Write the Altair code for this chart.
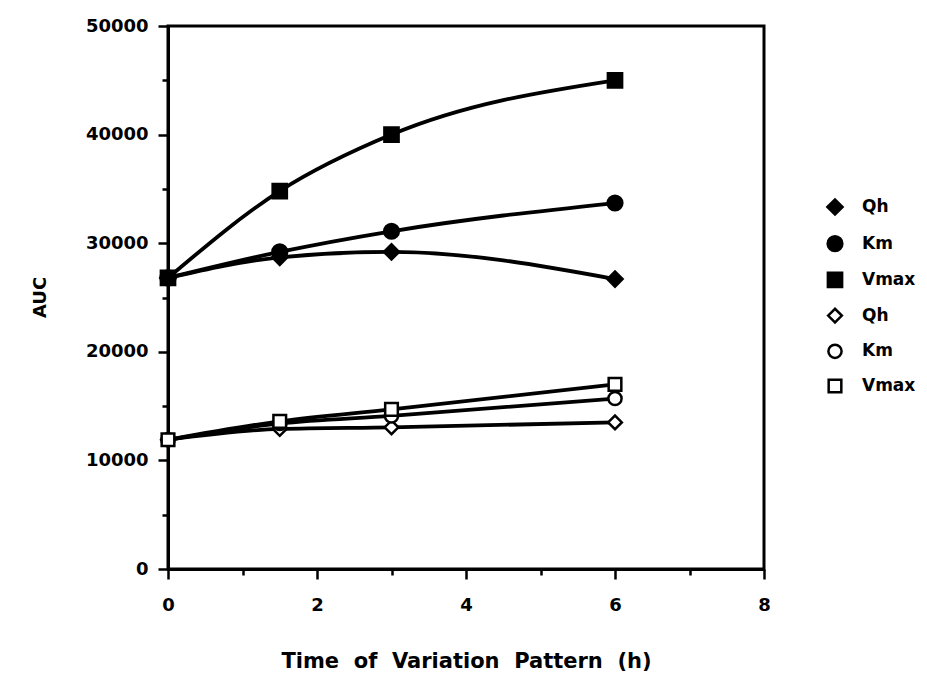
import altair as alt
import pandas as pd

# ---- data ----
times = [0, 1.5, 3, 6]
series_names = ["Qh filled", "Km filled", "Vmax filled", "Qh open", "Km open", "Vmax open"]
qh_filled = [26800, 28700, 29200, 26700]
km_filled = [26800, 29200, 31100, 33700]
vmax_filled = [26800, 34800, 40000, 45000]
qh_open = [11900, 12900, 13050, 13500]
km_open = [11900, 13400, 14100, 15700]
vmax_open = [11900, 13600, 14700, 17000]

x_ticks = [0, 1, 2, 3, 4, 5, 6, 7, 8]
y_ticks = [0, 5000, 10000, 15000, 20000, 25000, 30000, 35000, 40000, 45000, 50000]

shapes = ["diamond", "circle", "square", "diamond", "circle", "square"]
fills = ["black", "black", "black", "white", "white", "white"]
strokes = ["black"] * 6
sizes = [230, 160, 160, 180, 115, 125]

all_values = [qh_filled, km_filled, vmax_filled, qh_open, km_open, vmax_open]
rows = []
for name, vals in zip(series_names, all_values):
    for t, v in zip(times, vals):
        rows.append({"time": t, "auc": v, "series": name})
df = pd.DataFrame(rows)

FONT = "DejaVu Sans"
NB = "\u00a0"
x_title = (NB * 2).join(["Time", "of", "Variation", "Pattern", "(h)"])

x_enc = alt.X(
    "time:Q",
    scale=alt.Scale(domain=[0, 8], nice=False, zero=False),
    axis=alt.Axis(
        values=x_ticks,
        title=x_title,
        labelExpr="datum.value % 2 === 0 ? datum.label : ''",
        tickSize={"condition": {"test": "datum.value % 2 === 0", "value": 10}, "value": 6},
        labelPadding=17,
        labelFlush=False,
        labelOverlap=False,
        titleX=298,
        titleY=92,
        titleBaseline="middle",
        titleAlign="center",
        titleFontSize=21,
    ),
)
y_enc = alt.Y(
    "auc:Q",
    scale=alt.Scale(domain=[0, 50000], nice=False),
    axis=alt.Axis(
        values=y_ticks,
        format="d",
        title="AUC",
        labelExpr="datum.value % 10000 === 0 ? datum.label : ''",
        tickSize={"condition": {"test": "datum.value % 10000 === 0", "value": 10}, "value": 6},
        labelPadding=10,
        labelFlush=False,
        labelOverlap=False,
        titleX=-128,
        titleY=271,
        titleBaseline="middle",
        titleAlign="center",
    ),
)

legend = alt.Legend(
    title=None,
    orient="none",
    legendX=658,
    legendY=172,
    labelExpr="split(datum.label, ' ')[0]",
    labelFont=FONT,
    labelFontSize=17,
    labelFontWeight="bold",
    labelColor="black",
    labelOffset=18,
    symbolStrokeWidth=2.5,
    rowPadding=10.7,
    padding=0,
)

lines = alt.Chart(df).mark_line(
    interpolate="monotone", strokeWidth=3.8, color="black"
).encode(
    x=x_enc,
    y=y_enc,
    detail="series:N",
)

points = alt.Chart(df).mark_point(
    filled=True, strokeWidth=2.5, opacity=1
).encode(
    x=x_enc,
    y=y_enc,
    shape=alt.Shape("series:N", scale=alt.Scale(domain=series_names, range=shapes), legend=legend),
    fill=alt.Fill("series:N", scale=alt.Scale(domain=series_names, range=fills), legend=legend),
    stroke=alt.Stroke("series:N", scale=alt.Scale(domain=series_names, range=strokes), legend=legend),
    size=alt.Size("series:N", scale=alt.Scale(domain=series_names, range=sizes), legend=legend),
)

chart = (
    alt.layer(lines, points)
    .properties(
        width=596,
        height=543,
        padding={"left": 168, "top": 26, "right": 163, "bottom": 112},
        autosize=alt.AutoSizeParams(type="none"),
        background="white",
    )
    .configure_view(stroke="black", strokeWidth=3)
    .configure_axis(
        grid=False,
        domainColor="black",
        domainWidth=3,
        tickColor="black",
        tickWidth=2.5,
        labelFont=FONT,
        labelFontSize=18,
        labelFontWeight="bold",
        labelColor="black",
        titleFont=FONT,
        titleFontSize=18,
        titleFontWeight="bold",
        titleColor="black",
    )
)

chart.save("out.html", embed_options={"renderer": "svg", "actions": False})
